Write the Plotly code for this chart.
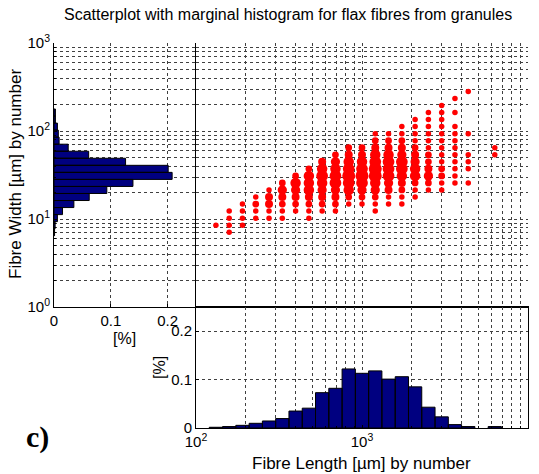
import plotly.graph_objects as go

W, H = 539, 474

# ---------------- data ----------------
# Fibre length bin centres [um] (log-spaced bins)
length_bins = [131.8, 158.5, 190.5, 229.1, 275.4, 331.1, 398.1, 478.6, 575.4, 691.8,
               831.8, 1000.0, 1202.0, 1445.0, 1738.0, 2089.0, 2512.0, 3020.0, 3631.0,
               4365.0, 5248.0, 6310.0]
# Fibre width bin centres [um]
width_bins = [7.08, 8.51, 10.23, 12.30, 14.79, 17.78, 21.38, 25.70, 30.90, 37.15,
              44.67, 53.70, 64.57, 77.62, 93.33, 112.2, 134.9, 162.2, 195.0, 234.4, 281.8]

# Marginal histogram of fibre length [%]
length_hist = [0.0015, 0.003, 0.0055, 0.0097, 0.0145, 0.0195, 0.035, 0.041, 0.073, 0.082,
               0.122, 0.113, 0.118, 0.101, 0.106, 0.085, 0.043, 0.023, 0.007, 0.003,
               0.0, 0.003]
# Marginal histogram of fibre width [%]
width_hist = [0.001, 0.002, 0.006, 0.015, 0.035, 0.062, 0.093, 0.139, 0.208, 0.201,
              0.126, 0.061, 0.025, 0.009, 0.0076, 0.006, 0.0025, 0.0025, 0.0, 0.0, 0.0]

# Joint counts (relative marker size class), one row per length bin, one column per width bin
joint_counts = [
    [0, 1, 0, 0, 0, 0, 0, 0, 0, 0, 0, 0, 0, 0, 0, 0, 0, 0, 0, 0, 0],
    [1, 1, 1, 1, 0, 0, 0, 0, 0, 0, 0, 0, 0, 0, 0, 0, 0, 0, 0, 0, 0],
    [0, 1, 1, 1, 1, 0, 0, 0, 0, 0, 0, 0, 0, 0, 0, 0, 0, 0, 0, 0, 0],
    [0, 0, 1, 1, 1.5, 1, 0, 0, 0, 0, 0, 0, 0, 0, 0, 0, 0, 0, 0, 0, 0],
    [0, 0, 1, 1, 2, 2, 1, 0, 0, 0, 0, 0, 0, 0, 0, 0, 0, 0, 0, 0, 0],
    [0, 0, 1, 1, 1.5, 2, 2.5, 1.5, 0, 0, 0, 0, 0, 0, 0, 0, 0, 0, 0, 0, 0],
    [0, 0, 0, 1, 1.5, 2, 2.5, 3, 1.5, 0, 0, 0, 0, 0, 0, 0, 0, 0, 0, 0, 0],
    [0, 0, 1, 1, 1.5, 2, 3, 3, 3, 1.5, 0, 0, 0, 0, 0, 0, 0, 0, 0, 0, 0],
    [0, 0, 0, 1, 1.5, 2, 2.5, 3, 3.5, 3, 2, 0, 0, 0, 0, 0, 0, 0, 0, 0, 0],
    [0, 0, 0, 1, 1.5, 2, 2.5, 3.5, 3.5, 3, 2.5, 1.5, 0, 0, 0, 0, 0, 0, 0, 0, 0],
    [0, 0, 0, 0, 1, 1.5, 3, 3.5, 4, 3.5, 3, 2, 1.5, 0, 0, 0, 0, 0, 0, 0, 0],
    [0, 0, 0, 0, 1, 1.5, 2.5, 3.5, 4, 3.5, 3, 2, 1.5, 0, 0, 0, 0, 0, 0, 0, 0],
    [0, 0, 0, 1, 1, 1.5, 2.5, 3, 4, 4, 3.5, 3, 2, 1.5, 1, 0, 0, 0, 0, 0, 0],
    [0, 0, 0, 0, 1, 1, 2, 2.5, 3.5, 3.5, 3.5, 3, 2, 1.5, 1, 0, 0, 0, 0, 0, 0],
    [0, 0, 0, 0, 1, 1, 1.5, 2, 3, 3.5, 3.5, 2.5, 2, 1.5, 1, 1, 0, 0, 0, 0, 0],
    [0, 0, 0, 0, 0, 1, 1, 1.5, 3, 3, 2.5, 2, 1.5, 1, 1, 1, 1, 0, 0, 0, 0],
    [0, 0, 0, 0, 0, 0, 1, 1.5, 2.5, 2, 1.5, 1.5, 1, 1, 1, 1, 1, 1, 0, 0, 0],
    [0, 0, 0, 0, 0, 0, 1, 1, 1.5, 1.5, 1, 1, 1, 1, 1, 1, 1, 1, 1, 0, 0],
    [0, 0, 0, 0, 0, 0, 0, 1, 1, 1, 1, 1, 1, 1, 1, 1, 0, 1, 0, 1, 0],
    [0, 0, 0, 0, 0, 0, 0, 1, 0, 1, 1, 1, 0, 0, 1, 0, 0, 0, 0, 0, 1],
    [0, 0, 0, 0, 0, 0, 0, 0, 0, 0, 0, 0, 0, 0, 0, 0, 0, 0, 0, 0, 0],
    [0, 0, 0, 0, 0, 0, 0, 0, 0, 0, 0, 1, 1, 0, 0, 0, 0, 0, 0, 0, 0],
]

# Axis tick labels
width_decades = [1, 10, 100, 1000]
width_decade_labels = ["10<sup>0</sup>", "10<sup>1</sup>", "10<sup>2</sup>", "10<sup>3</sup>"]
length_decades = [100, 1000, 10000]
length_decade_labels = ["10<sup>2</sup>", "10<sup>3</sup>", "10<sup>4</sup>"]
pct_ticks = [0, 0.1, 0.2]
pct_labels = ["0", "0.1", "0.2"]

bin_ratio = 10 ** 0.08  # log bin width

# ---------------- helpers ----------------
def px_x(p):
    return p / W

def px_y(p):
    return 1 - p / H

FONT = "Liberation Sans, Arial, sans-serif"
GRIDCOL = "#404040"
DASH = "3px,3px"
GRID = dict(showgrid=True, gridcolor=GRIDCOL, gridwidth=1, griddash=DASH,
            zeroline=False, automargin=False)

minor_y = [m * 10 ** e for e in range(0, 3) for m in range(2, 10)]
minor_x = [m * 10 ** e for e in range(2, 4) for m in range(2, 10)]

def minor(vals, ticks=""):
    return dict(tickvals=vals, showgrid=True, gridcolor=GRIDCOL, gridwidth=1,
                griddash=DASH, ticks=ticks, ticklen=2, tickcolor="black")

fig = go.Figure()

# ---- left marginal histogram (width) ----
hx, hy = [], []
s = bin_ratio ** 0.5
for c, v in zip(width_bins, width_hist):
    if v <= 0:
        continue
    lo, hi = c / s, c * s
    hx += [0, v, v, 0, 0, None]
    hy += [lo, lo, hi, hi, lo, None]
fig.add_trace(go.Scatter(x=hx, y=hy, mode="lines", fill="toself", fillcolor="#000080",
                         line=dict(color="black", width=1), xaxis="x", yaxis="y",
                         hoverinfo="skip", showlegend=False))

# ---- bottom marginal histogram (length) ----
bx, by = [], []
for c, v in zip(length_bins, length_hist):
    if v <= 0:
        continue
    lo, hi = c / s, c * s
    bx += [lo, lo, hi, hi, lo, None]
    by += [0, v, v, 0, 0, None]
fig.add_trace(go.Scatter(x=bx, y=by, mode="lines", fill="toself", fillcolor="#000080",
                         line=dict(color="black", width=1), xaxis="x3", yaxis="y3",
                         hoverinfo="skip", showlegend=False))

# ---- scatter ----
sx, sy, ss = [], [], []
for i, row in enumerate(joint_counts):
    for j, n in enumerate(row):
        if n > 0:
            sx.append(length_bins[i])
            sy.append(width_bins[j])
            ss.append(5.5 + (n - 1) * 2.5)
fig.add_trace(go.Scatter(x=sx, y=sy, mode="markers",
                         marker=dict(color="#ff0000", size=ss, opacity=1, line=dict(width=0)),
                         xaxis="x2", yaxis="y2", hoverinfo="skip", showlegend=False))

ydom = [px_y(307), px_y(43)]
ydom3 = [px_y(428), px_y(307)]
xdom1 = [px_x(54), px_x(196)]
xdom2 = [px_x(196), px_x(528)]

tickfont = dict(family=FONT, size=15, color="black")

fig.update_layout(
    width=W, height=H, autosize=False,
    margin=dict(l=0, r=0, t=0, b=0, pad=0, autoexpand=False),
    paper_bgcolor="white", plot_bgcolor="rgba(0,0,0,0)",
    showlegend=False,
    xaxis=dict(domain=xdom1, range=[0, 0.25], anchor="y",
               tickvals=pct_ticks, ticktext=pct_labels,
               ticks="inside", ticklen=3, tickcolor="black",
               showline=True, linecolor="black", linewidth=1, tickfont=tickfont, **GRID),
    yaxis=dict(domain=ydom, type="log", range=[0, 3], anchor="x",
               tickvals=width_decades, ticktext=width_decade_labels,
               ticks="inside", ticklen=3, tickcolor="black", minor=minor(minor_y, "inside"),
               showline=True, linecolor="black", linewidth=1, tickfont=tickfont, **GRID),
    xaxis2=dict(domain=xdom2, type="log", range=[2, 4], anchor="y2",
                tickvals=length_decades, showticklabels=False, ticks="",
                minor=minor(minor_x),
                showline=True, linecolor="black", linewidth=1, **GRID),
    yaxis2=dict(domain=ydom, type="log", range=[0, 3], anchor="x2",
                tickvals=width_decades, showticklabels=False, ticks="",
                minor=minor(minor_y),
                showline=True, linecolor="black", linewidth=1, **GRID),
    xaxis3=dict(domain=xdom2, type="log", range=[2, 4], anchor="y3",
                tickvals=length_decades, ticktext=length_decade_labels,
                ticks="inside", ticklen=3, tickcolor="black", minor=minor(minor_x, "inside"),
                showline=True, mirror=True, linecolor="black", linewidth=1,
                tickfont=tickfont, **GRID),
    yaxis3=dict(domain=ydom3, range=[0, 0.25], anchor="x3",
                tickvals=pct_ticks, ticktext=pct_labels,
                ticks="inside", ticklen=3, tickcolor="black",
                showline=True, mirror=True, linecolor="black", linewidth=1,
                tickfont=tickfont, **GRID),
)

ann = [
    dict(text="Scatterplot with marginal histogram for flax fibres from granules",
         x=px_x(288), y=px_y(15), font=dict(family=FONT, size=16)),
    dict(text="Fibre Width [µm] by number", x=px_x(16), y=px_y(174), textangle=-90,
         font=dict(family=FONT, size=17)),
    dict(text="[%]", x=px_x(124), y=px_y(338), font=dict(family=FONT, size=16)),
    dict(text="[%]", x=px_x(159), y=px_y(368), textangle=-90, font=dict(family=FONT, size=16)),
    dict(text="Fibre Length [µm] by number", x=px_x(361), y=px_y(463),
         font=dict(family=FONT, size=17)),
    dict(text="<b>c)</b>", x=px_x(37), y=px_y(437),
         font=dict(family="Liberation Serif, Times New Roman, serif", size=30)),
]
for a in ann:
    a.update(xref="paper", yref="paper", showarrow=False, xanchor="center", yanchor="middle")
    a.setdefault("font", {}).setdefault("color", "black")
fig.update_layout(annotations=ann)

fig.write_html("out.html")
